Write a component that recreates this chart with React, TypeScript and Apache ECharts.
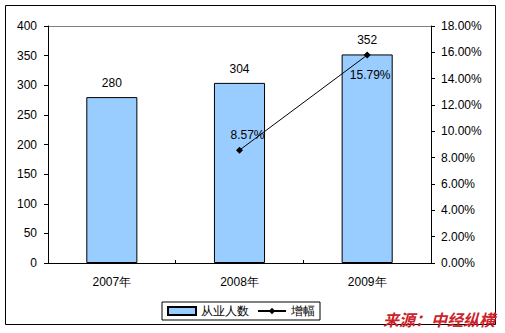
import React, { useEffect, useRef } from "react";
import * as echarts from "echarts";

const categories = ["2007年", "2008年", "2009年"];
const employees = [280, 304, 352];
const growth: (number | null)[] = [null, 8.57, 15.79];
const seriesNames = ["从业人数", "增幅"];
const sourceText = "来源：中经纵横";

const FONT = "'Liberation Sans', Arial, sans-serif";

export default function App() {
  const ref = useRef<HTMLDivElement>(null);
  useEffect(() => {
    document.body.style.margin = "0";
    const chart = echarts.init(ref.current!, null, { renderer: "svg" });
    const lineData = growth.map((v, i) => {
      if (v == null) return null;
      if (i === 1)
        return { value: v, label: { position: "top", distance: 6, offset: [8, 0] } };
      return { value: v, label: { position: "bottom", distance: 10, offset: [3, 0] } };
    });
    chart.setOption({
      animation: false,
      backgroundColor: "#fff",
      textStyle: { fontFamily: FONT },
      grid: { left: 48, right: 74, top: 26, bottom: 70 },
      legend: {
        left: 162,
        top: 302,
        borderColor: "#000",
        borderWidth: 1,
        borderRadius: 0,
        padding: [3, 5],
        itemGap: 8,
        itemWidth: 28,
        itemHeight: 8,
        textStyle: { fontSize: 12, color: "#000", fontFamily: FONT },
        data: [
          { name: seriesNames[0], icon: "rect" },
          { name: seriesNames[1] },
        ],
      },
      xAxis: {
        type: "category",
        data: categories,
        boundaryGap: true,
        axisLine: { lineStyle: { color: "#000", width: 1 } },
        axisTick: { show: true, inside: true, length: 3, lineStyle: { color: "#000" } },
        axisLabel: { color: "#000", fontSize: 12, margin: 13, fontFamily: FONT },
      },
      yAxis: [
        {
          type: "value",
          min: 0,
          max: 400,
          interval: 50,
          axisLine: { show: true, lineStyle: { color: "#000" } },
          axisTick: { show: true, length: 4, lineStyle: { color: "#000" } },
          axisLabel: { color: "#000", fontSize: 12, margin: 11, fontFamily: FONT },
          splitLine: { show: false },
        },
        {
          type: "value",
          min: 0,
          max: 18,
          interval: 2,
          position: "right",
          axisLine: { show: true, lineStyle: { color: "#000" } },
          axisTick: { show: true, length: 4, lineStyle: { color: "#000" } },
          axisLabel: {
            color: "#000",
            fontSize: 12,
            margin: 10,
            fontFamily: FONT,
            formatter: (v: number) => v.toFixed(2) + "%",
          },
          splitLine: { show: false },
        },
      ],
      series: [
        {
          name: seriesNames[0],
          type: "bar",
          data: employees,
          barWidth: "40%",
          itemStyle: { color: "#99CCFF", borderColor: "#000", borderWidth: 1 },
          label: {
            show: true,
            position: "top",
            distance: 8,
            color: "#000",
            fontSize: 12,
            fontFamily: FONT,
          },
        },
        {
          name: seriesNames[1],
          type: "line",
          yAxisIndex: 1,
          data: lineData,
          connectNulls: false,
          symbol: "diamond",
          symbolSize: 7,
          showSymbol: true,
          lineStyle: { color: "#000", width: 1 },
          itemStyle: { color: "#000" },
          label: {
            show: true,
            color: "#000",
            fontSize: 12,
            fontFamily: FONT,
            formatter: (p: any) => Number(p.value).toFixed(2) + "%",
          },
        },
      ],
      graphic: [
        {
          type: "rect",
          shape: { x: 5.5, y: 5.5, width: 490, height: 319 },
          style: { fill: "none", stroke: "#000", lineWidth: 1 },
          silent: true,
        },
        {
          type: "line",
          shape: { x1: 48, y1: 26.5, x2: 431, y2: 26.5 },
          style: { stroke: "#808080", lineWidth: 1 },
          silent: true,
        },
        {
          type: "text",
          x: 383,
          y: 311,
          style: {
            text: sourceText,
            fill: "#cc2229",
            font: "italic bold 16px 'Noto Sans CJK SC', sans-serif",
          },
        },
      ],
    });
    return () => chart.dispose();
  }, []);
  return <div ref={ref} style={{ width: 505, height: 333 }} />;
}
